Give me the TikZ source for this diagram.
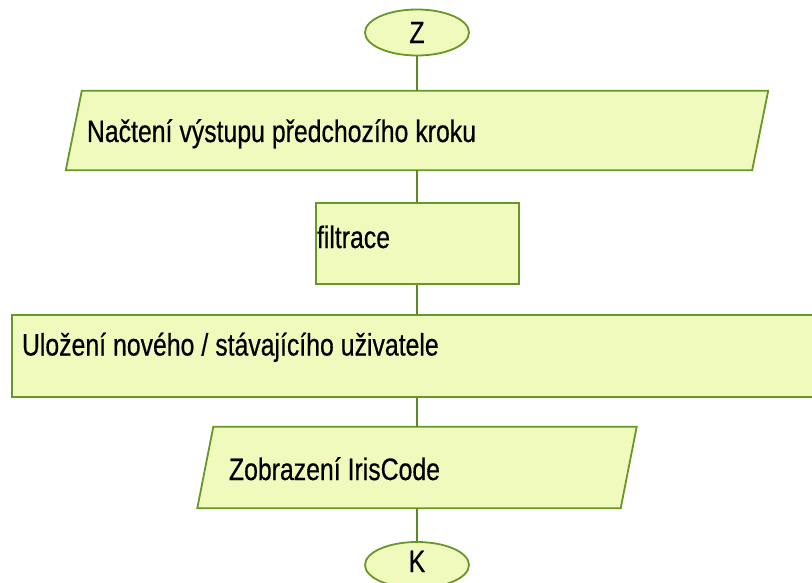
\documentclass[tikz,border=0pt]{standalone}
\usepackage{fontspec}
\setmainfont{Liberation Sans}[FakeStretch=0.8, FakeBold=0.5]
\usetikzlibrary{shapes.geometric,backgrounds}
\definecolor{boxfill}{RGB}{239,250,188}
\definecolor{edge}{RGB}{104,150,40}
\definecolor{wire}{RGB}{92,138,30}
\begin{document}
\begin{tikzpicture}[x=1pt,y=-1pt,
  every node/.style={font=\fontsize{31}{36}\selectfont, text=black,
    execute at begin node={\spaceskip=7pt\relax}},
  terminal/.style={ellipse, draw=edge, fill=boxfill, line width=1.8pt,
    minimum width=104pt, minimum height=46pt, inner sep=0pt},
  stepbox/.style={rectangle, draw=edge, fill=boxfill, line width=2pt,
    inner ysep=0pt, text depth=0pt},
  iobox/.style={rectangle, inner ysep=0pt, text depth=0pt},
  iooutline/.style={draw=edge, fill=boxfill, line width=1.8pt},
  wire/.style={draw=wire, line width=2pt}
]
\useasboundingbox (0,0) rectangle (812,583);
\clip (0,0) rectangle (812,583);

% start terminal
\node[terminal] (z) at (417,32.5) {Z};

% input: read previous step output
\node[iobox, minimum width=686pt, minimum height=79pt, inner xsep=13pt,
  text width=660pt, text height=23pt] (p1) at (417,130.5)
  {Načtení výstupu předchozího kroku};

% process: filtering
\node[stepbox, minimum width=203pt, minimum height=81pt, inner xsep=1.5pt,
  text width=200pt, text height=9pt] (f) at (417,243.5) {filtrace};

% process: store user
\node[stepbox, minimum width=810pt, minimum height=82pt, inner xsep=10pt,
  text width=790pt, text height=0pt, text depth=1pt] (u) at (417,356)
  {Uložení nového / stávajícího uživatele};

% output: show IrisCode
\node[iobox, minimum width=423pt, minimum height=81pt, inner xsep=23.5pt,
  text width=376pt, text height=25pt] (p3) at (417,467.5)
  {Zobrazení IrisCode};

% end terminal
\node[terminal, text height=14pt, text depth=0pt] (k) at (417,565) {K};

% slanted outlines of the input/output blocks
\begin{pgfonlayer}{background}
  \foreach \n in {p1,p3}
    \path[iooutline] ([xshift=-8pt]\n.south west) -- ([xshift=-8pt]\n.south east)
      -- ([xshift=8pt]\n.north east) -- ([xshift=8pt]\n.north west) -- cycle;
\end{pgfonlayer}

% flow connectors
\draw[wire] (z) -- (p1);
\draw[wire] (p1) -- (f);
\draw[wire] (f) -- (u);
\draw[wire] (u) -- (p3);
\draw[wire] (p3) -- (k);
\end{tikzpicture}
\end{document}
